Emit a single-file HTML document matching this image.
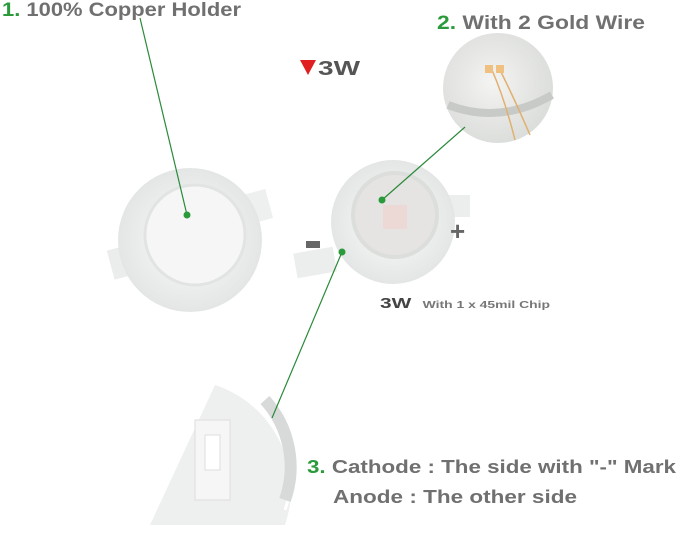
<!DOCTYPE html><html><head><style>body{margin:0;background:#fff}svg{display:block}text{font-family:"Liberation Sans",sans-serif;font-weight:bold}</style></head><body>
<svg width="679" height="533" viewBox="0 0 679 533">
<defs><radialGradient id="g" cx="50%" cy="50%" r="50%"><stop offset="0" stop-color="#fbfbfb"/><stop offset="1" stop-color="#e4e6e6"/></radialGradient>
<radialGradient id="m" cx="45%" cy="45%" r="55%"><stop offset="0" stop-color="#f4f4f2"/><stop offset="1" stop-color="#dcdedc"/></radialGradient></defs>
<text x="2" y="16" font-size="19" fill="#707070" textLength="239" lengthAdjust="spacingAndGlyphs"><tspan fill="#2a9a3a">1.</tspan> 100% Copper Holder</text>
<text x="437" y="29" font-size="19" fill="#707070" textLength="208" lengthAdjust="spacingAndGlyphs"><tspan fill="#2a9a3a">2.</tspan> With 2 Gold Wire</text>
<polygon points="300,60 316,60 308,75" fill="#e02020"/>
<text x="318" y="75" font-size="20" fill="#555" textLength="42" lengthAdjust="spacingAndGlyphs">3W</text>
<circle cx="498" cy="88" r="55" fill="url(#m)"/>
<path d="M448,105 Q500,125 552,95" stroke="#c8cac8" stroke-width="8" fill="none"/>
<path d="M492,70 Q505,100 515,140 M500,70 Q515,100 530,135" stroke="#e0b070" stroke-width="1.5" fill="none"/>
<rect x="485" y="65" width="8" height="8" fill="#f0c080"/><rect x="496" y="65" width="8" height="8" fill="#f0c080"/>
<rect x="110" y="245" width="45" height="30" fill="#ebecec" transform="rotate(-15 130 260)"/>
<rect x="225" y="195" width="45" height="30" fill="#eeefef" transform="rotate(-15 245 210)"/>
<circle cx="190" cy="240" r="72" fill="url(#g)"/>
<circle cx="195" cy="235" r="50" fill="#f6f6f6" stroke="#e2e4e4" stroke-width="3"/>
<rect x="295" y="250" width="40" height="25" fill="#eceded" transform="rotate(-10 315 262)"/>
<rect x="435" y="195" width="35" height="22" fill="#eceded"/>
<circle cx="393" cy="222" r="62" fill="url(#g)"/>
<circle cx="395" cy="215" r="42" fill="#e6e4e2" stroke="#dcdedc" stroke-width="4"/>
<rect x="383" y="205" width="24" height="24" fill="#ecd8d4"/>
<rect x="306" y="241" width="14" height="7" fill="#666"/>
<text x="450" y="240" font-size="26" fill="#666">+</text>
<text x="380" y="308" font-size="15" fill="#444" textLength="170" lengthAdjust="spacingAndGlyphs">3W <tspan font-size="10" fill="#777" dx="4">With 1 x 45mil Chip</tspan></text>
<path d="M215,385 A110,110 0 0 1 285,525 L150,525 Z" fill="#eeefef"/>
<path d="M245,385 A110,110 0 0 1 285,510" stroke="#fff" stroke-width="3" fill="none"/>
<path d="M265,400 A100,100 0 0 1 285,500" stroke="#d8dada" stroke-width="12" fill="none"/>
<rect x="195" y="420" width="35" height="80" fill="#f6f6f6" stroke="#ddd"/>
<rect x="205" y="435" width="15" height="35" fill="#fff" stroke="#ddd"/>
<g stroke="#2a8a3a" stroke-width="1.2"><line x1="140" y1="18" x2="187" y2="215"/><line x1="465" y1="127" x2="382" y2="200"/><line x1="342" y1="252" x2="272" y2="418"/></g>
<g fill="#2a9a3a"><circle cx="187" cy="215" r="3.5"/><circle cx="382" cy="200" r="3.5"/><circle cx="342" cy="252" r="3.5"/></g>
<text x="307" y="473" font-size="18" fill="#707070" textLength="369" lengthAdjust="spacingAndGlyphs"><tspan fill="#2a9a3a">3.</tspan> Cathode  :  The side with "-" Mark</text>
<text x="333" y="503" font-size="18" fill="#707070" textLength="244" lengthAdjust="spacingAndGlyphs">Anode  : The other side</text>
</svg></body></html>
